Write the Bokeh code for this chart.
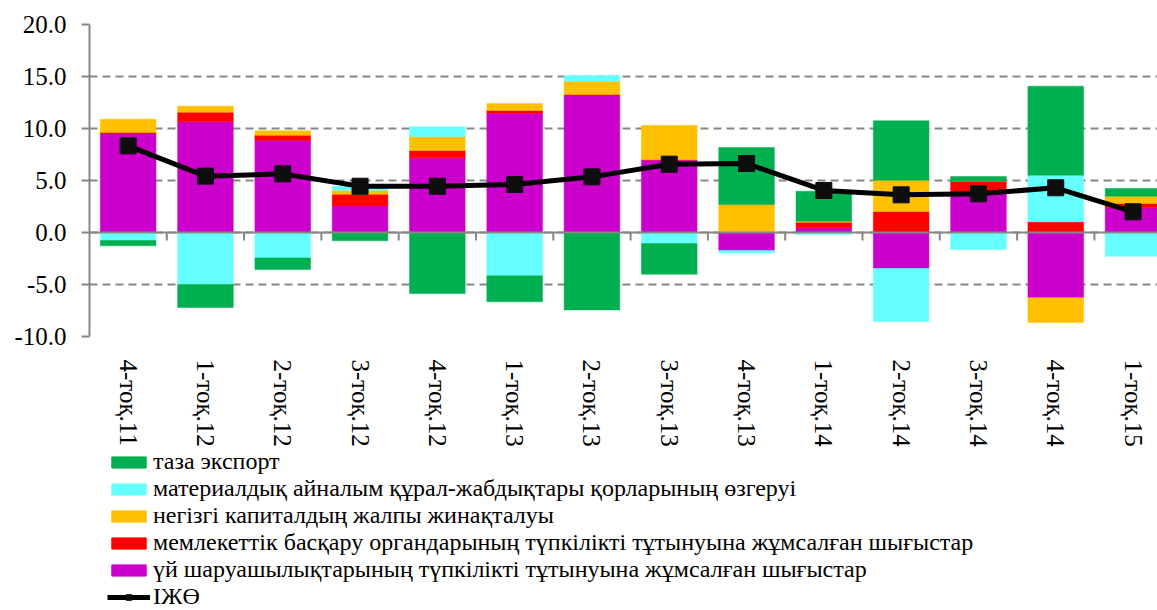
import numpy as np
from bokeh.plotting import figure
from bokeh.layouts import column
from bokeh.models import (ColumnDataSource, Range1d, FixedTicker, PrintfTickFormatter,
                          Span, Legend, LegendItem, Label)
from bokeh.embed import file_html
from bokeh.resources import INLINE

# ---------------- data ----------------
title_text = "Жиынтық сұраныстың құрамдас бөліктерінің ІЖӨ-нің өсуіне үлесі, %"

categories = ["4-тоқ.11", "1-тоқ.12", "2-тоқ.12", "3-тоқ.12", "4-тоқ.12", "1-тоқ.13", "2-тоқ.13",
              "3-тоқ.13", "4-тоқ.13", "1-тоқ.14", "2-тоқ.14", "3-тоқ.14", "4-тоқ.14", "1-тоқ.15"]

households = [9.62, 10.64, 8.85, 2.56, 7.18, 11.47, 13.27, 6.99, -1.73, 0.45, -3.46, 3.85, -6.28, 2.37]
government = [0.0, 0.93, 0.51, 1.12, 0.70, 0.26, 0.0, 0.0, 0.0, 0.54, 2.02, 1.05, 1.03, 0.42]
fixed_capital = [1.28, 0.58, 0.42, 0.38, 1.35, 0.67, 1.28, 3.30, 2.69, 0.10, 3.01, 0.0, -2.37, 0.70]
inventories = [-0.77, -5.00, -2.44, 0.38, 0.93, -4.17, 0.55, -1.06, -0.22, -0.19, -5.10, -1.63, 4.48, -2.28]
net_exports = [-0.51, -2.21, -1.12, -0.80, -5.87, -2.50, -7.44, -2.95, 5.48, 2.88, 5.71, 0.48, 8.56, 0.74]
gdp = [8.33, 5.42, 5.64, 4.45, 4.45, 4.62, 5.35, 6.57, 6.63, 4.04, 3.62, 3.72, 4.30, 1.99]

series_names = ["үй шаруашылықтарының түпкілікті тұтынуына жұмсалған шығыстар",
                "мемлекеттік басқару органдарының түпкілікті тұтынуына жұмсалған шығыстар",
                "негізгі капиталдың жалпы жинақталуы",
                "материалдық айналым құрал-жабдықтары қорларының өзгеруі",
                "таза экспорт"]
series_values = [households, government, fixed_capital, inventories, net_exports]
series_colors = ["#CC00CC", "#FF0000", "#FFC000", "#66FFFF", "#00B050"]
gdp_name = "ІЖӨ"

y_ticks = [-10, -5, 0, 5, 10, 15, 20]

# ---------------- styling ----------------
FONT = "Liberation Serif"
GRAY = "#878787"
n = len(categories)
centers = np.arange(n) + 0.5
bounds = np.arange(1, n)

px_per_cat = 77.3
frame_w = 1068

p = figure(width=1157, height=449,
           x_range=Range1d(0, frame_w / px_per_cat), y_range=Range1d(-10, 20),
           output_backend="svg", toolbar_location=None,
           min_border_left=89, min_border_right=0, min_border_top=24, min_border_bottom=113)
p.outline_line_color = None
p.background_fill_color = "white"
p.border_fill_color = "white"

# grid
p.xgrid.visible = False
p.ygrid.ticker = FixedTicker(ticks=y_ticks)
p.ygrid.grid_line_color = GRAY
p.ygrid.grid_line_width = 2
p.ygrid.grid_line_dash = "8 5"

# y axis
p.yaxis.ticker = FixedTicker(ticks=y_ticks)
p.yaxis.formatter = PrintfTickFormatter(format="%.1f")
p.yaxis.axis_line_color = GRAY
p.yaxis.axis_line_width = 2
p.yaxis.major_tick_line_color = GRAY
p.yaxis.major_tick_line_width = 2
p.yaxis.major_tick_out = 8
p.yaxis.major_tick_in = 0
p.yaxis.minor_tick_line_color = None
p.yaxis.major_label_text_font = FONT
p.yaxis.major_label_text_font_size = "25px"
p.yaxis.major_label_text_color = "black"
p.yaxis.major_label_standoff = 15

# x axis (labels at the bottom)
p.xaxis.ticker = FixedTicker(ticks=list(centers))
p.xaxis.major_label_overrides = {float(c): lab for c, lab in zip(centers, categories)}
p.xaxis.axis_line_color = None
p.xaxis.major_tick_line_color = None
p.xaxis.minor_tick_line_color = None
p.xaxis.major_label_orientation = "vertical"
p.xaxis.major_label_text_font = FONT
p.xaxis.major_label_text_font_size = "25px"
p.xaxis.major_label_text_color = "black"
p.xaxis.major_label_standoff = 17

# stacked bars (positive and negative parts stacked separately)
pos_base = np.zeros(n)
neg_base = np.zeros(n)
bar_sources = []
for name, vals, col in zip(series_names, series_values, series_colors):
    v = np.array(vals, dtype=float)
    pos = np.where(v > 0, v, 0.0)
    neg = np.where(v < 0, v, 0.0)
    bottom = np.where(v >= 0, pos_base, neg_base)
    top = np.where(v >= 0, pos_base + pos, neg_base + neg)
    pos_base = pos_base + pos
    neg_base = neg_base + neg
    src = ColumnDataSource(dict(x=centers, top=top, bottom=bottom))
    bar_sources.append(src)
    p.vbar(x="x", top="top", bottom="bottom", width=0.72, source=src,
           fill_color=col, line_color=col, line_width=0.5)

# zero axis line and category tick marks
p.add_layout(Span(location=0, dimension="width", line_color=GRAY, line_width=2))
tick_src = ColumnDataSource(dict(x=bounds, y0=np.zeros(len(bounds)), y1=np.full(len(bounds), -0.77)))
p.segment(x0="x", y0="y0", x1="x", y1="y1", source=tick_src, line_color=GRAY, line_width=2)

# GDP line
gsrc = ColumnDataSource(dict(x=centers, y=gdp))
p.line("x", "y", source=gsrc, line_color="black", line_width=5)
p.scatter("x", "y", source=gsrc, marker="square", size=16, fill_color="#0d0d0d", line_color="#0d0d0d")

# title (partly cut off at the top, as in the source picture)
p.add_layout(Label(x=(1018 - 89) / px_per_cat, y=20 + 24 / 10.4, text=title_text,
                   text_align="right", text_baseline="alphabetic",
                   text_font=FONT, text_font_style="bold", text_font_size="32px",
                   text_color="#008000"))

# ---------------- legend strip below the chart ----------------
# same series, drawn in a strip whose ranges keep the glyphs themselves out of view
lg = figure(width=1157, height=161, x_range=Range1d(-20, -19), y_range=Range1d(-40, -39),
            output_backend="svg", toolbar_location=None,
            x_axis_location=None, y_axis_location=None,
            min_border_left=0, min_border_right=0, min_border_top=0, min_border_bottom=0)
lg.outline_line_color = None
lg.grid.visible = False

legend_items = []
for i in [4, 3, 2, 1, 0]:
    r = lg.vbar(x="x", top="top", bottom="bottom", width=0.72, source=bar_sources[i],
                fill_color=series_colors[i], line_color=series_colors[i])
    legend_items.append(LegendItem(label=series_names[i], renderers=[r]))
rl = lg.line("x", "y", source=gsrc, line_color="black", line_width=5)
rm = lg.scatter("x", "y", source=gsrc, marker="square", size=16, fill_color="#0d0d0d", line_color="#0d0d0d")
legend_items.append(LegendItem(label=gdp_name, renderers=[rl, rm]))

legend = Legend(items=legend_items, location=(18, 0), orientation="vertical",
                glyph_width=43, glyph_height=14, label_standoff=3,
                label_text_font=FONT, label_text_font_size="24px", label_text_color="black",
                label_height=26, spacing=0, padding=0, margin=0,
                border_line_color=None, background_fill_alpha=0)
lg.add_layout(legend)

layout = column(p, lg, spacing=0)
open("out.html", "w").write(file_html(layout, INLINE))
